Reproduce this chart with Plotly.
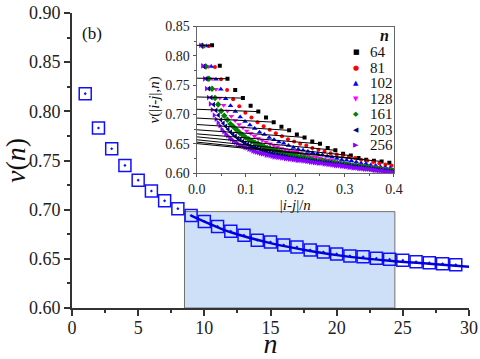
import plotly.graph_objects as go

# main panel: nu(n) for window sizes n = 1..29
n_main = list(range(1, 30))
nu_main = [0.818, 0.783, 0.762, 0.745, 0.730, 0.719, 0.709, 0.701, 0.694, 0.688,
           0.683, 0.678, 0.674, 0.669, 0.667, 0.664, 0.662, 0.659, 0.657, 0.655,
           0.653, 0.652, 0.6505, 0.6495, 0.6485, 0.647, 0.646, 0.645, 0.644]

# fitted curve
fit_n = [9, 12, 15, 18, 21, 24, 27, 30]
fit_nu = [0.694, 0.677, 0.666, 0.658, 0.652, 0.648, 0.645, 0.642]

# inset: nu(|i-j|, n) for each chain length n, |i-j| = 2, 3, ...
nu_64 = [0.818, 0.783, 0.761, 0.742, 0.728, 0.715, 0.705, 0.695, 0.687, 0.679,
         0.673, 0.666, 0.661, 0.654, 0.650, 0.643, 0.639, 0.633, 0.630, 0.626,
         0.623, 0.621, 0.620, 0.618]
nu_81 = [0.817, 0.781, 0.760, 0.742, 0.726, 0.714, 0.703, 0.695, 0.687, 0.680,
         0.674, 0.668, 0.663, 0.658, 0.654, 0.650, 0.647, 0.643, 0.640, 0.637,
         0.634, 0.632, 0.630, 0.628, 0.626, 0.623, 0.621, 0.619, 0.617, 0.615,
         0.613]
nu_102 = [0.817, 0.782, 0.760, 0.743, 0.727, 0.715, 0.705, 0.696, 0.688, 0.682,
          0.676, 0.670, 0.666, 0.661, 0.657, 0.653, 0.651, 0.647, 0.644, 0.641,
          0.639, 0.637, 0.635, 0.633, 0.631, 0.629, 0.627, 0.625, 0.623, 0.622,
          0.621, 0.619, 0.617, 0.616, 0.614, 0.613, 0.611, 0.610, 0.609, 0.608]
nu_128 = [0.817, 0.782, 0.761, 0.743, 0.728, 0.716, 0.706, 0.697, 0.690, 0.683,
          0.678, 0.672, 0.668, 0.663, 0.659, 0.656, 0.653, 0.650, 0.647, 0.645,
          0.642, 0.640, 0.639, 0.637, 0.636, 0.633, 0.631, 0.630, 0.628, 0.627,
          0.626, 0.624, 0.623, 0.622, 0.620, 0.619, 0.618, 0.617, 0.616, 0.615,
          0.614, 0.613, 0.612, 0.611, 0.611, 0.610, 0.609, 0.608, 0.607, 0.606]
nu_161 = [0.817, 0.782, 0.761, 0.744, 0.728, 0.717, 0.706, 0.698, 0.691, 0.684,
          0.679, 0.674, 0.669, 0.665, 0.661, 0.658, 0.655, 0.652, 0.650, 0.647,
          0.645, 0.643, 0.642, 0.640, 0.639, 0.636, 0.635, 0.633, 0.632, 0.631,
          0.630, 0.628, 0.627, 0.627, 0.625, 0.624, 0.623, 0.622, 0.621, 0.621,
          0.620, 0.619, 0.618, 0.618, 0.617, 0.616, 0.616, 0.615, 0.614, 0.613,
          0.613, 0.612, 0.611, 0.611, 0.610, 0.609, 0.608, 0.608, 0.607, 0.606,
          0.606, 0.605, 0.604]
nu_203 = [0.818, 0.782, 0.761, 0.744, 0.729, 0.717, 0.707, 0.699, 0.691, 0.685,
          0.680, 0.675, 0.670, 0.666, 0.663, 0.659, 0.657, 0.654, 0.651, 0.649,
          0.647, 0.645, 0.644, 0.643, 0.641, 0.639, 0.638, 0.636, 0.635, 0.634,
          0.633, 0.632, 0.631, 0.630, 0.629, 0.628, 0.627, 0.626, 0.625, 0.625,
          0.624, 0.624, 0.623, 0.622, 0.622, 0.621, 0.621, 0.620, 0.619, 0.619,
          0.618, 0.618, 0.617, 0.617, 0.616, 0.615, 0.615, 0.614, 0.614, 0.613,
          0.613, 0.612, 0.611, 0.611, 0.611, 0.610, 0.609, 0.609, 0.608, 0.608,
          0.607, 0.607, 0.606, 0.606, 0.605, 0.604, 0.604, 0.603, 0.603, 0.602]
nu_256 = [0.818, 0.783, 0.761, 0.744, 0.729, 0.718, 0.708, 0.699, 0.692, 0.686,
          0.681, 0.675, 0.671, 0.667, 0.664, 0.660, 0.658, 0.655, 0.653, 0.651,
          0.648, 0.647, 0.646, 0.644, 0.643, 0.641, 0.640, 0.638, 0.637, 0.636,
          0.635, 0.634, 0.633, 0.633, 0.631, 0.631, 0.630, 0.629, 0.628, 0.628,
          0.627, 0.627, 0.626, 0.626, 0.625, 0.625, 0.624, 0.624, 0.623, 0.623,
          0.622, 0.622, 0.622, 0.621, 0.621, 0.620, 0.620, 0.619, 0.619, 0.618,
          0.618, 0.617, 0.617, 0.617, 0.616, 0.616, 0.615, 0.615, 0.614, 0.614,
          0.613, 0.613, 0.613, 0.612, 0.612, 0.611, 0.611, 0.610, 0.610, 0.609,
          0.609, 0.609, 0.608, 0.608, 0.608, 0.607, 0.607, 0.607, 0.606, 0.606,
          0.605, 0.605, 0.604, 0.604, 0.604, 0.603, 0.602, 0.602, 0.602, 0.601,
          0.601]

chain_n = [64, 81, 102, 128, 161, 203, 256]
chain_nu = [nu_64, nu_81, nu_102, nu_128, nu_161, nu_203, nu_256]
colors = ["#000000", "#ff0000", "#0000ff", "#ff00ff", "#008000", "#000080", "#8a00ff"]
symbols = ["square", "circle", "triangle-up", "triangle-down", "diamond",
           "triangle-left", "triangle-right"]
glyphs = ["■", "●", "▲", "▼", "◆", "◀", "▶"]

# straight extrapolation lines (odd window sizes)
line_k = list(range(1, 24, 2))

SERIF = "Liberation Serif, Times New Roman, serif"

fig = go.Figure()

# main data
fig.add_trace(go.Scatter(
    x=n_main, y=nu_main, mode="markers",
    marker=dict(symbol="square-open-dot", size=12, color="#1010ff",
                line=dict(width=1.5, color="#1010ff")),
    showlegend=False))
fig.add_trace(go.Scatter(
    x=fit_n, y=fit_nu, mode="lines", line=dict(color="#0000dd", width=2.5, shape="spline"),
    showlegend=False))

# inset markers
for n, vals, c, s in zip(chain_n, chain_nu, colors, symbols):
    xs = [(d + 2) / n for d in range(len(vals))]
    size = 5 if s.startswith("triangle") or s == "diamond" else 4
    fig.add_trace(go.Scatter(
        x=xs, y=vals, mode="markers", name=str(n),
        marker=dict(symbol=s, size=size, color=c, line=dict(width=0)),
        xaxis="x2", yaxis="y2", showlegend=False))

# inset lines, drawn over the markers
for k in line_k:
    fig.add_trace(go.Scatter(
        x=[0, (k + 1) / 64], y=[nu_main[k - 1], nu_64[k - 1]],
        mode="lines", line=dict(color="black", width=1),
        xaxis="x2", yaxis="y2", showlegend=False))

axis_font = dict(family=SERIF, size=18, color="#222")
fig.update_layout(
    width=480, height=359,
    margin=dict(l=72, r=11, t=13, b=51),
    font=dict(family=SERIF),
    paper_bgcolor="white", plot_bgcolor="white",
    xaxis=dict(range=[0, 30], dtick=5, ticks="outside", ticklen=6, tickwidth=1.5,
               tickcolor="#333", showline=True, linewidth=2, linecolor="#333",
               showgrid=False, zeroline=False, tickfont=axis_font, automargin=False,
               ticklabelstandoff=-4, ticklabeloverflow="allow",
               minor=dict(dtick=2.5, ticks="outside", ticklen=3, tickcolor="#333"),
               title=dict(text="<i>n</i>", font=dict(family=SERIF, size=28, color="#111"),
                          standoff=5)),
    yaxis=dict(range=[0.6, 0.9], dtick=0.05, tickformat=".2f", ticks="outside",
               ticklen=6, tickwidth=1.5, tickcolor="#333", showline=True, linewidth=2,
               linecolor="#333", showgrid=False, zeroline=False, tickfont=axis_font,
               automargin=False, ticklabeloverflow="allow",
               minor=dict(dtick=0.025, ticks="outside", ticklen=3, tickcolor="#333"),
               title=dict(text="<i>ν</i>(<i>n</i>)",
                          font=dict(family=SERIF, size=28, color="#111"), standoff=4)),
    xaxis3=dict(overlaying="x", side="top", anchor="y", range=[0, 30], dtick=5,
                ticks="inside", ticklen=6, tickwidth=1.5, tickcolor="#333",
                showticklabels=False, showline=True, linewidth=2, linecolor="#333",
                showgrid=False, zeroline=False, automargin=False,
                minor=dict(dtick=2.5, ticks="inside", ticklen=3, tickcolor="#333")),
    yaxis3=dict(overlaying="y", side="right", anchor="x", range=[0.6, 0.9], dtick=0.05,
                ticks="inside", ticklen=6, tickwidth=1.5, tickcolor="#333",
                showticklabels=False, showline=True, linewidth=2, linecolor="#333",
                showgrid=False, zeroline=False, automargin=False,
                minor=dict(dtick=0.025, ticks="inside", ticklen=3, tickcolor="#333")),
    xaxis2=dict(domain=[0.314, 0.811], anchor="y2", range=[0, 0.4], dtick=0.1,
                tickformat=".1f", ticks="outside", ticklen=3, tickcolor="#555",
                showline=True, mirror=True, linewidth=1.2, linecolor="#666",
                showgrid=False, zeroline=False, automargin=False,
                tickfont=dict(family=SERIF, size=14, color="#222"),
                minor=dict(dtick=0.05, ticks="outside", ticklen=2, tickcolor="#555"),
                title=dict(text="|<i>i</i>-<i>j</i>|/<i>n</i>",
                           font=dict(family=SERIF, size=15, color="#111"), standoff=0)),
    yaxis2=dict(domain=[0.457, 0.954], anchor="x2", range=[0.6, 0.85], dtick=0.05,
                tickformat=".2f", ticks="outside", ticklen=3, tickcolor="#555",
                showline=True, mirror=True, linewidth=1.2, linecolor="#666",
                showgrid=False, zeroline=False, automargin=False,
                tickfont=dict(family=SERIF, size=14, color="#222"),
                minor=dict(dtick=0.025, ticks="outside", ticklen=2, tickcolor="#555"),
                title=dict(text="<i>ν</i>(|<i>i</i>-<i>j</i>|,<i>n</i>)",
                           font=dict(family=SERIF, size=15, color="#111"), standoff=2)),
    showlegend=False,
)

# highlighted fitting window
fig.add_shape(type="rect", xref="x", yref="y", x0=8.5, x1=24.4, y0=0.6, y1=0.698,
              fillcolor="#cde0f8", line=dict(color="#707070", width=1), layer="below")

fig.add_annotation(x=0.05, y=0.932, xref="paper", yref="paper", text="(b)",
                   xanchor="center", yanchor="middle", showarrow=False,
                   font=dict(family=SERIF, size=17, color="#111"))

# hand-drawn legend inside the inset (paper coords of the 295 px tall plot area)
px_h = 295.0
fig.add_annotation(x=0.788, y=(295 - 22) / px_h, xref="paper", yref="paper",
                   text="<b><i>n</i></b>", xanchor="center", yanchor="middle",
                   showarrow=False, font=dict(family=SERIF, size=16, color="#111"))
for i, (n, c, g) in enumerate(zip(chain_n, colors, glyphs)):
    yp = (295 - (39 + 15.5 * i)) / px_h
    fig.add_annotation(x=0.7154, y=yp, xref="paper", yref="paper", text=g,
                       xanchor="center", yanchor="middle", showarrow=False,
                       font=dict(family="DejaVu Sans", size=7, color=c))
    fig.add_annotation(x=0.745, y=yp, xref="paper", yref="paper", text=str(n),
                       xanchor="left", yanchor="middle", showarrow=False,
                       font=dict(family=SERIF, size=15, color="#111"))

# drop the default 8px page margin so the figure fills the window exactly
fig.write_html("out.html", config={"displayModeBar": False},
               post_script="document.body.style.margin = '0';")
